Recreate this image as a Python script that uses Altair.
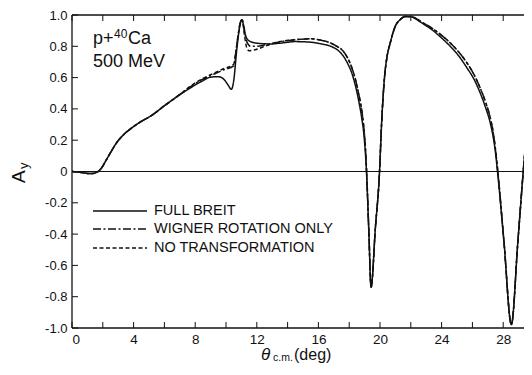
import altair as alt
import pandas as pd

# ---------------- data ----------------
full_breit_x = [0, 0.5, 1.0, 1.3, 1.6, 1.9, 2.2, 2.5, 2.8, 3.3, 3.9, 4.5, 5.2, 6.0, 6.7,
                7.7, 8.4, 9.0, 9.5, 9.9, 10.15, 10.35, 10.5, 10.7, 10.9, 11.02, 11.15, 11.3, 11.5,
                12.0, 12.9, 13.5, 14.5, 15.5, 16.2, 16.8, 17.3, 17.6, 17.9, 18.2, 18.4, 18.6,
                18.8, 18.95, 19.05, 19.12, 19.27, 19.42, 19.7, 19.97, 20.1, 20.3, 20.45, 20.66,
                21.0, 21.3, 21.65, 22.0, 22.7, 23.5, 24.0, 24.56, 25.1, 25.64, 26.1, 26.5, 26.85,
                27.16, 27.35, 27.5, 27.63, 28.05, 28.53, 28.95, 29.3, 29.64, 29.86, 30.0]
full_breit_y = [0.0, -0.005, -0.012, -0.013, -0.006, 0.02, 0.07, 0.12, 0.17, 0.23, 0.28, 0.32, 0.36, 0.42, 0.47,
                0.535, 0.575, 0.603, 0.606, 0.585, 0.55, 0.525, 0.58, 0.78, 0.93, 0.97, 0.93, 0.86, 0.835,
                0.82, 0.815, 0.82, 0.83, 0.826, 0.815, 0.80, 0.772, 0.74, 0.69, 0.62, 0.55, 0.46,
                0.35, 0.24, 0.12, 0.0, -0.37, -0.74, -0.36, 0.0, 0.3, 0.61, 0.73, 0.82,
                0.93, 0.97, 0.99, 0.988, 0.95, 0.896, 0.853, 0.80, 0.74, 0.663, 0.59, 0.503, 0.41,
                0.31, 0.22, 0.12, 0.0, -0.45, -0.978, -0.45, 0.0, 0.40, 0.67, 0.80]

no_transf_x = [0, 0.5, 1.0, 1.3, 1.6, 1.9, 2.2, 2.5, 2.8, 3.3, 3.9, 4.5, 5.2, 6.0, 6.7,
               7.7, 8.4, 9.17, 9.8, 10.5, 10.62, 10.8, 10.95, 11.05, 11.2, 11.35, 11.5, 11.9,
               12.65, 13.5, 14.5, 15.47, 16.2, 16.77, 17.2, 17.6, 17.9, 18.17, 18.4, 18.6, 18.8,
               18.95, 19.06, 19.13, 19.27, 19.42, 19.7, 19.97, 20.1, 20.3, 20.45, 20.66, 21.0,
               21.3, 21.65, 22.0, 22.7, 23.5, 24.0, 24.56, 25.1, 25.64, 26.1, 26.5, 26.85, 27.16,
               27.35, 27.5, 27.65, 28.05, 28.53, 28.95, 29.3, 29.64, 29.86, 30.0]
no_transf_y = [0.0, -0.005, -0.012, -0.013, -0.006, 0.02, 0.07, 0.12, 0.17, 0.23, 0.28, 0.32, 0.36, 0.42, 0.47,
               0.545, 0.59, 0.626, 0.655, 0.685, 0.75, 0.88, 0.96, 0.97, 0.87, 0.79, 0.772, 0.778,
               0.805, 0.83, 0.842, 0.848, 0.838, 0.822, 0.80, 0.77, 0.725, 0.663, 0.59, 0.503, 0.40,
               0.28, 0.14, 0.0, -0.37, -0.74, -0.36, 0.0, 0.3, 0.61, 0.73, 0.82, 0.93,
               0.97, 0.99, 0.99, 0.955, 0.907, 0.87, 0.822, 0.765, 0.695, 0.62, 0.535, 0.445, 0.343,
               0.25, 0.14, 0.0, -0.45, -0.978, -0.45, 0.0, 0.40, 0.67, 0.80]

wigner_x = [0, 0.5, 1.0, 1.3, 1.6, 1.9, 2.2, 2.5, 2.8, 3.3, 3.9, 4.5, 5.2, 6.0, 6.7,
            7.7, 8.4, 9.17, 9.8, 10.5, 10.62, 10.8, 10.95, 11.05, 11.2, 11.35, 11.6, 12.0,
            12.65, 13.5, 14.5, 15.47, 16.2, 16.77, 17.2, 17.6, 17.9, 18.17, 18.4, 18.6, 18.8,
            18.95, 19.06, 19.13, 19.27, 19.42, 19.7, 19.97, 20.1, 20.3, 20.45, 20.66, 21.0,
            21.3, 21.65, 22.0, 22.7, 23.5, 24.0, 24.56, 25.1, 25.64, 26.1, 26.5, 26.85, 27.16,
            27.35, 27.5, 27.65, 28.05, 28.53, 28.95, 29.3, 29.64, 29.86, 30.0]
wigner_y = [0.0, -0.005, -0.012, -0.013, -0.006, 0.02, 0.07, 0.12, 0.17, 0.23, 0.28, 0.32, 0.36, 0.42, 0.47,
            0.542, 0.585, 0.62, 0.648, 0.675, 0.75, 0.88, 0.96, 0.97, 0.89, 0.83, 0.80, 0.80,
            0.812, 0.828, 0.842, 0.848, 0.838, 0.822, 0.80, 0.77, 0.725, 0.663, 0.59, 0.503, 0.40,
            0.28, 0.14, 0.0, -0.37, -0.74, -0.36, 0.0, 0.3, 0.61, 0.73, 0.82, 0.93,
            0.97, 0.99, 0.99, 0.955, 0.907, 0.87, 0.822, 0.765, 0.695, 0.62, 0.535, 0.445, 0.343,
            0.25, 0.14, 0.0, -0.45, -0.978, -0.45, 0.0, 0.40, 0.67, 0.80]

series_names = ["FULL BREIT", "WIGNER ROTATION ONLY", "NO TRANSFORMATION"]
series_dash = [[1, 0], [8, 2.5, 2, 2.5], [4, 2.5]]

x_label_values = [0, 4, 8, 12, 16, 20, 24, 28]
x_tick_values = list(range(0, 29, 2))
y_tick_values = [-1.0, -0.8, -0.6, -0.4, -0.2, 0.0, 0.2, 0.4, 0.6, 0.8, 1.0]

# ---------------- build table ----------------
rows = []
for name, xs, ys in [(series_names[2], no_transf_x, no_transf_y),
                     (series_names[1], wigner_x, wigner_y),
                     (series_names[0], full_breit_x, full_breit_y)]:
    for i, (a, b) in enumerate(zip(xs, ys)):
        rows.append({"deg": a, "A": b, "curve": name, "i": i})
df = pd.DataFrame(rows)

# the original figure is cut off at its right edge (just before 30 deg)
W, H = 452, 313
X_MAX = 29.35
FONT = "Liberation Sans"
INK = "#111111"

xscale = alt.Scale(domain=[0, X_MAX], nice=False, zero=False)
yscale = alt.Scale(domain=[-1, 1], nice=False, zero=False)
xaxis = alt.Axis(values=x_label_values, title=None, ticks=False, domain=False, grid=False,
                 labelFont=FONT, labelFontSize=13.5, labelPadding=4, labelColor=INK)
yaxis = alt.Axis(values=y_tick_values, title=None, ticks=False, domain=False, grid=False,
                 labelFont=FONT, labelFontSize=13, labelPadding=5, labelColor=INK,
                 labelExpr="datum.value == 0 ? '0' : (datum.value < 0 ? '-' : '') + format(abs(datum.value), '.1f')")

lines = alt.Chart(df).mark_line(strokeWidth=1.5, interpolate="monotone", clip=True, color=INK).encode(
    x=alt.X("deg:Q", scale=xscale, axis=xaxis),
    y=alt.Y("A:Q", scale=yscale, axis=yaxis),
    strokeDash=alt.StrokeDash("curve:N", scale=alt.Scale(domain=series_names, range=series_dash), legend=None),
    detail="curve:N",
    order="i:Q",
)

zero = alt.Chart(pd.DataFrame({"A": [0.0]})).mark_rule(color=INK, strokeWidth=1).encode(
    y=alt.Y("A:Q", scale=yscale, axis=yaxis))

xt = pd.DataFrame({"deg": x_tick_values})
yt = pd.DataFrame({"A": y_tick_values})
tick_bottom = alt.Chart(xt).mark_rule(color=INK, strokeWidth=1).encode(
    x=alt.X("deg:Q", scale=xscale, axis=xaxis), y=alt.value(H), y2=alt.value(H - 6))
tick_top = alt.Chart(xt).mark_rule(color=INK, strokeWidth=1).encode(
    x=alt.X("deg:Q", scale=xscale, axis=xaxis), y=alt.value(0), y2=alt.value(6))
tick_left = alt.Chart(yt).mark_rule(color=INK, strokeWidth=1).encode(
    y=alt.Y("A:Q", scale=yscale, axis=yaxis), x=alt.value(0), x2=alt.value(6))

frame_df = pd.DataFrame({"s": [0]})
frame_top = alt.Chart(frame_df).mark_rule(color=INK, strokeWidth=1.3).encode(
    x=alt.value(0), x2=alt.value(W), y=alt.value(0))
frame_bottom = alt.Chart(frame_df).mark_rule(color=INK, strokeWidth=1.3).encode(
    x=alt.value(0), x2=alt.value(W), y=alt.value(H))
frame_left = alt.Chart(frame_df).mark_rule(color=INK, strokeWidth=1.3).encode(
    x=alt.value(0), y=alt.value(0), y2=alt.value(H))

def txt(s, x, y, size, angle=0, style=None, baseline="alphabetic"):
    kw = dict(font=FONT, fontSize=size, color=INK, align="left", baseline=baseline, angle=angle)
    if style:
        kw["fontStyle"] = style
    return alt.Chart(pd.DataFrame({"s": [s]})).mark_text(**kw).encode(
        x=alt.value(x), y=alt.value(y), text="s:N")

layers = [lines, zero, tick_bottom, tick_top, tick_left, frame_top, frame_bottom, frame_left]

# legend (drawn inside plot)
leg_y = [196, 214, 233]
for name, dash, yy in zip(series_names, series_dash, leg_y):
    layers.append(alt.Chart(pd.DataFrame({"s": [name]})).mark_rule(
        color=INK, strokeWidth=1.5, strokeDash=dash).encode(
        x=alt.value(21), x2=alt.value(75), y=alt.value(yy)))
    layers.append(txt(name, 82, yy, 14.5, baseline="middle"))

# annotation
layers.append(txt("p+", 21, 29, 18))
layers.append(txt("40", 42, 23, 12))
layers.append(txt("Ca", 56, 29, 18))
layers.append(txt("500 MeV", 21, 52, 18))

# axis titles
layers.append(txt("θ", 189, 345, 17, style="italic"))
layers.append(txt("c.m.", 201, 346, 10.5))
layers.append(txt("(deg)", 222, 345, 16))
layers.append(txt("A", -47, 168, 19, angle=270))
layers.append(txt("y", -44, 154, 13, angle=270))

chart = alt.layer(*layers).properties(
    width=W, height=H,
    padding={"left": 64, "top": 7, "right": 0, "bottom": 35},
    autosize=alt.AutoSizeParams(type="none"),
    background="white",
).configure_view(strokeWidth=0)

chart.save("out.html", embed_options={"renderer": "svg", "actions": False})
